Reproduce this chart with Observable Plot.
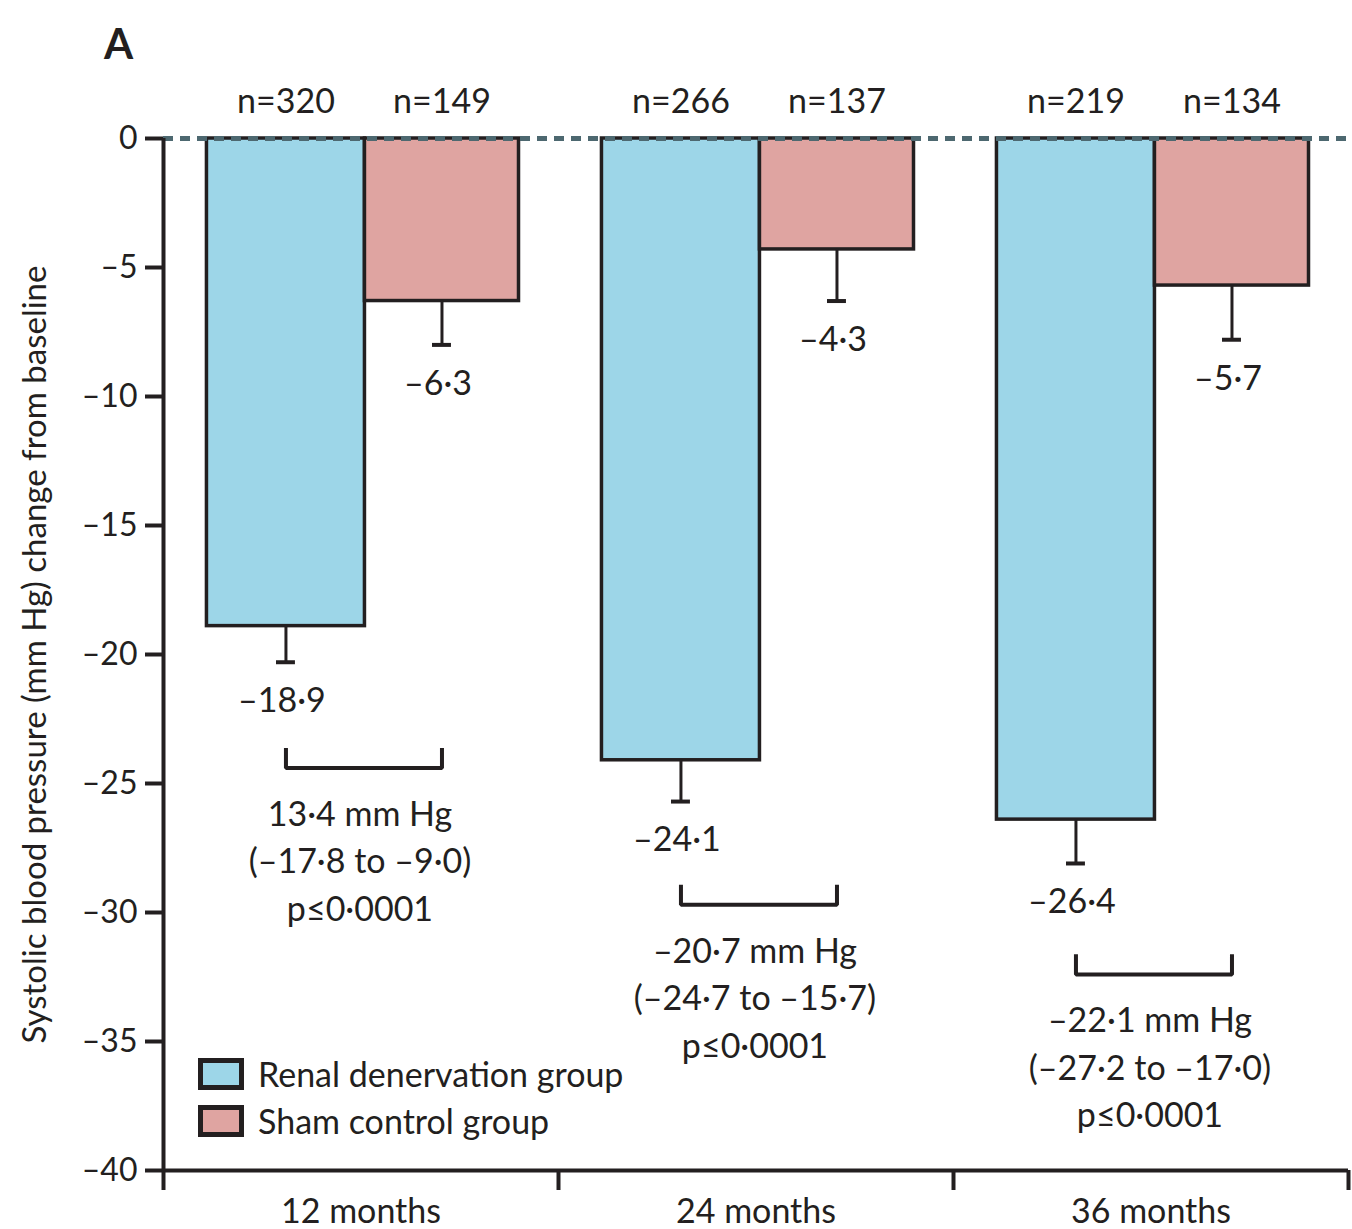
<!DOCTYPE html>
<html>
<head>
<meta charset="utf-8">
<script src="https://cdn.jsdelivr.net/npm/d3@7"></script>
<script src="https://cdn.jsdelivr.net/npm/@observablehq/plot@0.6"></script>
<style>
  html, body { margin: 0; padding: 0; background: #fff; }
  #wrap { position: relative; width: 1352px; height: 1229px; overflow: hidden; font-family: Lato, "Open Sans", sans-serif; color: #231f20; }
  #panel { position: absolute; left: 104px; top: 18px; font-size: 42px; font-weight: bold; }
  #legend { position: absolute; left: 198px; top: 1050px; font-size: 34px; }
  .item { display: flex; align-items: center; height: 47px; }
  .sw { width: 36px; height: 22px; border: 5px solid #231f20; margin-right: 14px; }
</style>
</head>
<body>
<div id="wrap">
  <div id="chart"></div>
  <div id="panel">A</div>
  <div id="legend"></div>
</div>
<script>
const months = ["12 months", "24 months", "36 months"];
const groups = ["Renal denervation group", "Sham control group"];
const groupColors = ["#9dd6e8", "#dfa4a1"];
const renalMean = [-18.9, -24.1, -26.4];
const shamMean = [-6.3, -4.3, -5.7];
const renalSE = [1.4, 1.6, 1.7];
const shamSE = [1.7, 2.0, 2.1];
const renalN = [320, 266, 219];
const shamN = [149, 137, 134];
const diffLabels = ["13·4 mm Hg", "–20·7 mm Hg", "–22·1 mm Hg"];
const ciLabels = ["(–17·8 to –9·0)", "(–24·7 to –15·7)", "(–27·2 to –17·0)"];
const pLabels = ["p≤0·0001", "p≤0·0001", "p≤0·0001"];
const bracketY = [-24.4, -29.7, -32.4];
const yTicks = [0, -5, -10, -15, -20, -25, -30, -35, -40];
const yLabel = "Systolic blood pressure (mm Hg) change from baseline";

// layout within each month band (fractions of the band)
const slotStart = [0.11, 0.51];
const slotEnd = [0.51, 0.9];
const capHalf = 0.024;
const bracketTick = 0.7;
const ink = "#231f20";

const fmt = v => (v < 0 ? "–" : "") + Math.abs(v).toFixed(1).replace(".", "·");
const fmtTick = v => (v < 0 ? "–" : "") + Math.abs(v);

const bars = [];
months.forEach((m, i) => {
  [[renalMean, renalSE, renalN], [shamMean, shamSE, shamN]].forEach(([mean, se, n], g) => {
    const x1 = i + slotStart[g], x2 = i + slotEnd[g];
    bars.push({month: m, group: groups[g], value: mean[i], se: se[i], n: n[i],
      x1, x2, xc: (x1 + x2) / 2, low: mean[i] - se[i], label: fmt(mean[i])});
  });
});

const brackets = [];
const notes = [];
months.forEach((m, i) => {
  const b = bars.filter(d => d.month === m);
  const xa = b[0].xc, xb = b[1].xc, y = bracketY[i];
  brackets.push({month: m, x: xa, y: y + bracketTick});
  brackets.push({month: m, x: xa, y});
  brackets.push({month: m, x: xb, y});
  brackets.push({month: m, x: xb, y: y + bracketTick});
  notes.push({x: (xa + xb) / 2, y, text: [diffLabels[i], ciLabels[i], pLabels[i]].join("\n")});
});

const fontFamily = "Lato, 'Open Sans', sans-serif";
const fs = 34;

const chart = Plot.plot({
  width: 1352,
  height: 1229,
  marginLeft: 163,
  marginRight: 4,
  marginTop: 138,
  marginBottom: 59,
  style: {fontFamily, fontSize: fs + "px", color: ink, background: "white"},
  x: {domain: [0, months.length], axis: null},
  y: {domain: [-40, 0], axis: null},
  color: {domain: groups, range: groupColors},
  marks: [
    Plot.rect(bars, {x1: "x1", x2: "x2", y1: 0, y2: "value", fill: "group", stroke: ink, strokeWidth: 3.5}),
    Plot.ruleY([0], {stroke: "#4d6870", strokeWidth: 5, strokeDasharray: "10,7"}),
    Plot.ruleX(bars, {x: "xc", y1: "value", y2: "low", stroke: ink, strokeWidth: 3}),
    Plot.ruleY(bars, {y: "low", x1: d => d.xc - capHalf, x2: d => d.xc + capHalf, stroke: ink, strokeWidth: 4}),
    Plot.text(bars, {x: "xc", y: "low", text: "label", dy: 39, dx: -4, fontSize: fs, fill: ink, fontFamily}),
    Plot.text(bars, {x: "xc", y: 0, text: d => "n=" + d.n, dy: -36, fontSize: fs, fill: ink, fontFamily}),
    Plot.line(brackets, {x: "x", y: "y", z: "month", stroke: ink, strokeWidth: 4, strokeLinejoin: "miter", strokeLinecap: "square"}),
    Plot.text(notes, {x: "x", y: "y", text: "text", lineAnchor: "top", lineHeight: 1.4, dy: 24, dx: -4, fontSize: fs, fill: ink, fontFamily}),
    // axes
    Plot.ruleX([0], {y1: -40, y2: 0, stroke: ink, strokeWidth: 4}),
    Plot.ruleY([-40], {stroke: ink, strokeWidth: 4}),
    Plot.axisY({ticks: yTicks, tickSize: 18, tickPadding: 8, tickFormat: fmtTick, stroke: ink, strokeWidth: 4, fontSize: 32, fill: ink, label: null}),
    Plot.axisX({ticks: d3.range(months.length + 1), tickSize: 20, tickFormat: () => "", stroke: ink, strokeWidth: 4, label: null}),
    Plot.text(months, {x: (d, i) => i + 0.5, y: -40, dy: 42, fontSize: fs, fill: ink, fontFamily}),
    Plot.text([yLabel], {frameAnchor: "left", textAnchor: "middle", rotate: -90, dx: -128, fontSize: 33, fill: ink, fontFamily})
  ]
});
document.getElementById("chart").append(chart);

const legend = document.getElementById("legend");
groups.forEach((g, i) => {
  const row = document.createElement("div");
  row.className = "item";
  const sw = document.createElement("div");
  sw.className = "sw";
  sw.style.background = groupColors[i];
  const t = document.createElement("span");
  t.textContent = g;
  row.append(sw, t);
  legend.append(row);
});
</script>
</body>
</html>
